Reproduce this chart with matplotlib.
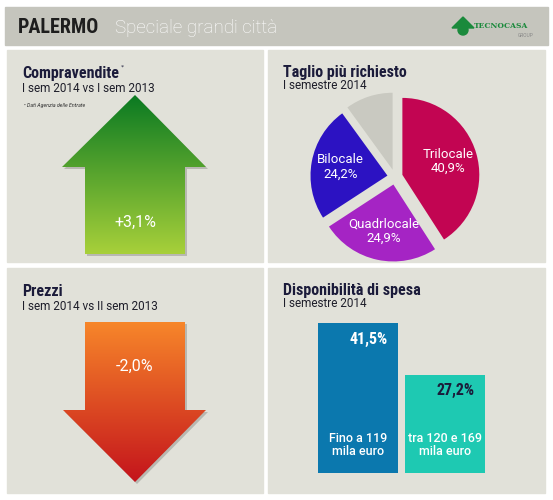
import numpy as np
from matplotlib import pyplot as plt
from matplotlib import font_manager
from matplotlib.patches import Rectangle, Polygon, Circle
from matplotlib.colors import to_rgb

# data
compravendite = 3.1
prezzi = -2.0
pie_labels = ['Trilocale', 'Quadrlocale', 'Bilocale', '']
pie_values = [40.9, 24.9, 24.2, 10.0]
pie_colors = ['#c20552', '#a524c4', '#2c12c2', '#c9c9c1']
bar_labels = ['Fino a 119\nmila euro', 'tra 120 e 169\nmila euro']
bar_values = [41.5, 27.2]
bar_colors = ['#0b78ae', '#1ec9b2']


def pct(v, sign=False):
    s = f'{v:+.1f}%' if sign else f'{v:.1f}%'
    return s.replace('.', ',')


names = {f.name for f in font_manager.fontManager.ttflist}
cond = next((n for n in ['Roboto Condensed', 'Liberation Sans Narrow'] if n in names), 'Roboto')

W, H = 553, 500
navy = '#1b1b3a'
fig = plt.figure(figsize=(W / 100, H / 100), dpi=100, facecolor='white')
bg = fig.add_axes([0, 0, 1, 1])
bg.set_xlim(0, W)
bg.set_ylim(H, 0)
bg.axis('off')

# header and panels
bg.add_patch(Rectangle((5, 7), 543, 38, color='#c5c5bd'))
for x, y, w, h in [(7, 50, 256, 212), (268, 50, 277, 212), (7, 268, 256, 225), (268, 268, 277, 225)]:
    bg.add_patch(Rectangle((x, y), w, h, color='#e1e1d9'))

bg.text(18, 33, 'PALERMO', fontsize=14.5, fontweight='bold', family=cond, color='#1e1e1e', va='baseline')
bg.text(115, 33, 'Speciale grandi città', fontsize=13.5, fontweight='light', family='Roboto', color='white', va='baseline')

# logo
logo_green = '#1b8a3c'
bg.add_patch(Polygon([(452, 28), (463, 17), (474, 28)], color=logo_green))
bg.add_patch(Circle((463, 30), 5, color=logo_green))
bg.text(474, 28, 'TECNOCASA', fontsize=5.4, fontweight='bold', family='DejaVu Serif',
        color=logo_green, va='baseline')
bg.text(533, 37, 'GROUP', fontsize=3.5, family='Roboto', color='#888888', ha='right', va='baseline')

# titles
tsize = 11.5
bg.text(22, 78, 'Compravendite', fontsize=tsize, fontweight='bold', family=cond, color=navy, va='baseline')
bg.text(121, 69, '*', fontsize=4.5, color=navy, va='baseline')
bg.text(22, 92, 'I sem 2014 vs I sem 2013', fontsize=8.5, family='Roboto', color='#1e1e2a', va='baseline')
bg.text(24, 107, '• Dati Agenzia delle Entrate', fontsize=3.8, style='italic', family='Roboto', color='#333333', va='baseline')

bg.text(283, 77, 'Taglio più richiesto', fontsize=tsize, fontweight='bold', family=cond, color=navy, va='baseline')
bg.text(283, 89, 'I semestre 2014', fontsize=8.5, family='Roboto', color='#1e1e2a', va='baseline')

bg.text(22, 296, 'Prezzi', fontsize=tsize, fontweight='bold', family=cond, color=navy, va='baseline')
bg.text(22, 310, 'I sem 2014 vs II sem 2013', fontsize=8.5, family='Roboto', color='#1e1e2a', va='baseline')

bg.text(283, 295, 'Disponibilità di spesa', fontsize=tsize, fontweight='bold', family=cond, color=navy, va='baseline')
bg.text(283, 307, 'I semestre 2014', fontsize=8.5, family='Roboto', color='#1e1e2a', va='baseline')


def gradient_arrow(pts, top, bottom):
    xs = [p[0] for p in pts]
    ys = [p[1] for p in pts]
    shadow = Polygon([(x + 2, y + 2) for x, y in pts], color='black', alpha=0.18, lw=0)
    bg.add_patch(shadow)
    poly = Polygon(pts, facecolor='none', edgecolor='none')
    bg.add_patch(poly)
    t = np.linspace(0, 1, 256)[:, None, None]
    grad = (1 - t) * np.array(to_rgb(top)) + t * np.array(to_rgb(bottom))
    im = bg.imshow(grad, extent=[min(xs), max(xs), max(ys), min(ys)], origin='upper', aspect='auto', zorder=2)
    im.set_clip_path(poly)


up = [(135, 95), (206, 167), (185, 167), (185, 254), (85, 254), (85, 167), (62, 167)]
gradient_arrow(up, '#0a7a22', '#a8d03a')
bg.text(135, 222, pct(compravendite, sign=True), fontsize=11.5, family='Roboto', color='white', ha='center', va='center', zorder=3)

down = [(85, 322), (185, 322), (185, 410), (206, 410), (135, 482), (63, 410), (85, 410)]
gradient_arrow(down, '#f7862a', '#c4141c')
bg.text(135, 366, pct(prezzi), fontsize=11.5, family='Roboto', color='white', ha='center', va='center', zorder=3)

bg.set_xlim(0, W)
bg.set_ylim(H, 0)

# pie
cx, cy, half = 395, 177, 100
pa = fig.add_axes([(cx - half) / W, 1 - (cy + half) / H, 2 * half / W, 2 * half / H])
explode = [0.1] * len(pie_values)
wedges, _ = pa.pie(pie_values, colors=pie_colors, startangle=90, counterclock=False,
                   explode=explode, wedgeprops=dict(linewidth=0))
pa.set_xlim(-1.3, 1.3)
pa.set_ylim(-1.3, 1.3)
pa.set_aspect('equal')
pa.axis('off')
for w, lab, v, e in zip(wedges, pie_labels, pie_values, explode):
    if not lab:
        continue
    ang = np.deg2rad((w.theta1 + w.theta2) / 2)
    r = 0.62 + e
    pa.text(r * np.cos(ang), r * np.sin(ang), lab + '\n' + pct(v), fontsize=9.5, family='Roboto',
            color='white', ha='center', va='center', linespacing=1.1)

# bars
bw = 0.925
ba = fig.add_axes([318 / W, 1 - 473 / H, 167 / W, 150 / H])
xpos = np.arange(len(bar_values))
ba.bar(xpos, bar_values, width=bw, color=bar_colors)
ba.set_xlim(-bw / 2, xpos[-1] + bw / 2)
ba.set_ylim(0, max(bar_values))
ba.axis('off')
val_colors = ['white', navy]
for x, v, lab, c in zip(xpos, bar_values, bar_labels, val_colors):
    ba.text(x + 0.12, v - 4.5, pct(v), fontsize=11.5, fontweight='bold', family=cond, color=c, ha='center', va='center')
    ba.text(x, 7.8, lab, fontsize=9, fontweight='medium', family='Roboto', color='white', ha='center', va='center', linespacing=1.05)

fig.savefig('out.png', dpi=100, facecolor='white')
